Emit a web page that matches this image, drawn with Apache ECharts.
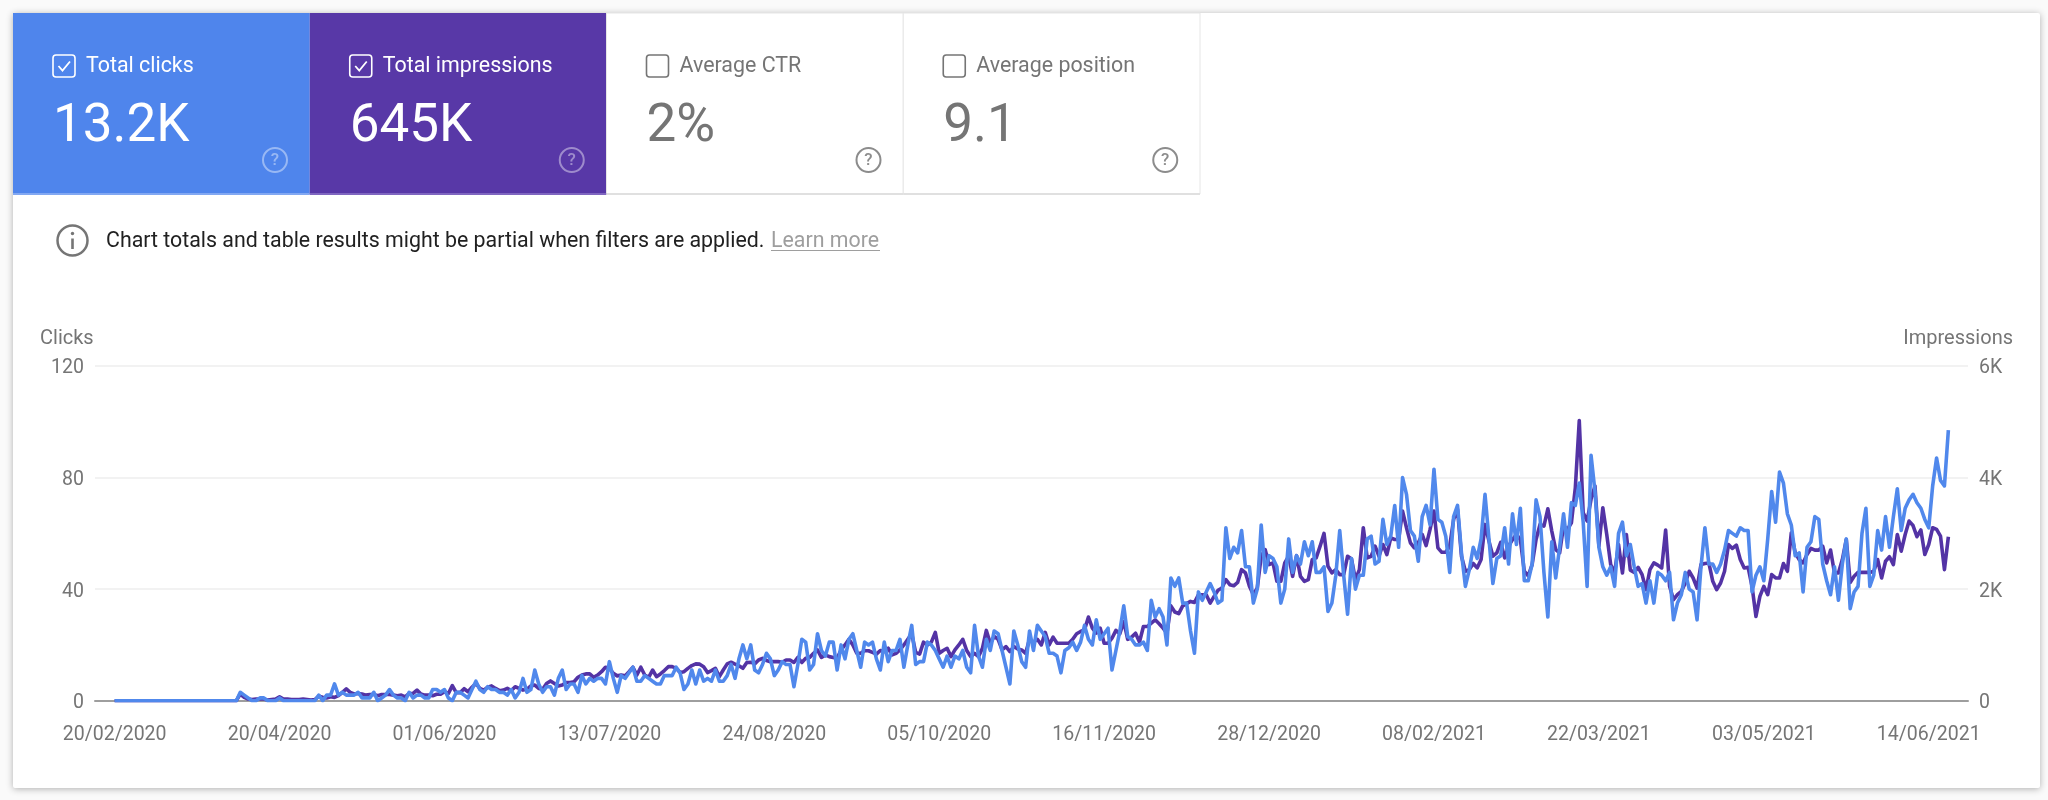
<!DOCTYPE html>
<html>
<head>
<meta charset="utf-8">
<title>Search performance</title>
<style>
  html, body { margin: 0; padding: 0; background: #fafafa; }
  #main { width: 2048px; height: 800px; }
</style>
<script src="https://cdn.jsdelivr.net/npm/echarts@6/dist/echarts.min.js"></script>
</head>
<body>
<div id="main"></div>
<script>
// tick labels, one every 42 points
var tickLabels = ['20/02/2020', '20/04/2020', '01/06/2020', '13/07/2020', '24/08/2020', '05/10/2020',
  '16/11/2020', '28/12/2020', '08/02/2021', '22/03/2021', '03/05/2021', '14/06/2021'];

// left axis
var clicks = [
  0,0,0,0,0,0,0,0,0,0,
  0,0,0,0,0,0,0,0,0,0,
  0,0,0,0,0,0,0,0,0,0,
  0,0,3,2,1,0,0,1,1,0,
  0,0,1,0,0,0,0,0,0,0,
  0,0,2,0,2,2,6,2,3,2,
  2,2,3,1,1,1,3,0,1,2,
  4,2,1,1,0,3,1,2,2,1,
  1,4,4,3,4,1,0,3,3,2,
  1,4,7,4,3,5,4,4,3,3,
  2,4,1,3,8,3,4,11,6,3,
  5,5,2,8,11,4,6,6,3,9,
  6,8,7,8,8,6,14,8,3,9,
  8,10,12,7,7,9,8,7,6,6,
  9,9,9,12,10,4,6,11,6,11,
  7,8,7,11,7,7,9,13,8,15,
  20,15,20,11,10,13,17,15,9,11,
  14,13,13,5,13,22,21,11,13,24,
  18,16,21,21,11,20,15,22,24,18,
  12,21,20,21,15,11,21,14,18,18,
  22,12,20,27,13,14,14,21,20,18,
  15,12,16,12,16,15,18,12,10,27,
  16,12,22,18,25,24,18,12,6,25,
  20,14,12,25,18,27,25,23,17,17,
  16,10,18,19,21,18,21,27,22,20,
  29,22,24,26,11,18,25,34,23,22,
  20,20,21,18,36,30,33,30,20,44,
  41,44,35,35,25,17,39,36,39,42,
  39,35,36,62,51,55,53,61,48,48,
  35,40,63,46,52,51,48,35,40,58,
  46,52,49,57,52,57,46,46,48,32,
  35,45,61,45,31,51,40,45,45,58,
  59,49,50,65,56,59,70,55,80,74,
  61,59,50,66,70,63,83,65,64,59,
  46,66,70,53,41,47,55,51,58,74,
  58,42,51,52,62,49,67,56,69,43,
  43,49,72,66,46,30,57,44,55,67,
  55,71,70,78,64,41,88,75,55,48,
  45,48,41,60,64,52,56,48,41,42,
  35,43,35,46,45,43,46,29,35,38,
  46,40,39,29,48,62,49,49,46,49,
  54,61,60,59,62,61,61,39,45,48,
  43,58,75,64,82,78,67,63,52,53,
  39,55,57,66,65,49,43,38,48,36,
  49,58,33,39,41,60,69,41,45,61,
  54,66,55,66,76,61,69,72,74,71,
  69,65,62,77,87,79,77,97
];

// right axis
var impressions = [
  0,0,0,0,0,0,0,0,0,0,
  0,0,0,0,0,0,0,0,0,0,
  0,0,0,0,0,0,0,0,0,0,
  0,0,120,60,30,20,30,30,30,10,
  20,30,70,30,30,20,20,20,30,20,
  10,20,80,60,50,70,60,90,150,210,
  150,120,130,120,100,110,110,90,110,110,
  110,100,90,100,70,130,130,190,120,100,
  100,90,115,115,160,130,270,145,145,215,
  160,240,310,220,190,240,265,220,180,190,
  220,180,250,220,190,205,265,280,220,205,
  310,355,310,265,280,325,325,340,420,460,
  480,480,420,460,520,600,580,490,445,460,
  445,520,600,460,600,460,420,550,430,480,
  540,610,610,580,505,520,580,630,660,655,
  610,505,540,580,430,550,660,690,655,625,
  580,685,690,660,730,760,720,700,700,700,
  690,730,730,685,775,685,760,775,850,910,
  775,820,790,775,760,910,1000,1100,1000,850,
  850,895,895,865,835,900,880,940,820,850,
  910,1000,1100,1200,865,835,1050,1000,1050,1225,
  850,900,940,790,910,1000,1100,900,790,850,
  790,940,1260,1030,1150,1100,910,970,880,970,
  925,910,850,1100,1050,1100,1000,1225,1000,1140,
  1030,1030,1030,1030,1100,1200,1240,1270,1500,1300,
  1210,1300,1030,1030,1120,1260,1200,1420,1100,1140,
  1210,1050,1330,1330,1390,1450,1380,1300,1210,1700,
  1590,1560,1700,1740,1780,1760,1900,1900,1900,1750,
  1870,1980,2020,2170,2080,2060,2120,2350,2290,2050,
  1900,2020,2590,2710,2440,2470,2140,2140,2470,2590,
  2230,2600,2230,2140,2170,2530,2560,2770,3000,2410,
  2290,2350,2260,2260,2590,2540,2170,2350,3100,2560,
  2590,2770,2590,2800,2620,2920,2890,2890,3400,3100,
  2830,2740,2830,2980,2780,3070,3400,2740,2660,2660,
  2770,3250,3430,2590,2320,2350,2460,2380,2530,3160,
  2860,2590,2650,2840,2560,2770,2890,2980,2890,2320,
  2240,2440,2890,3160,3130,3440,3040,2710,2650,3130,
  3070,3190,3820,5020,3370,3220,3610,3850,2770,3460,
  2980,2440,2290,2800,2290,2980,2340,2300,2390,2260,
  1990,2350,2470,2430,2380,3060,2050,1810,1900,1960,
  2110,2320,2200,2020,2440,2460,2470,2140,1990,2110,
  2320,2800,2730,2790,2530,2380,2390,2050,1510,1870,
  2050,1900,2260,2200,2200,2460,2320,3010,2650,2530,
  2470,2620,2730,2700,2700,2770,2470,2700,2290,2290,
  2530,2890,2120,2230,2300,2300,2300,2300,2320,2530,
  2200,2500,2580,2440,2980,2680,2980,3220,3140,2940,
  3060,2620,2800,3100,3070,2950,2350,2940
];

var cardLabels = ['Total clicks', 'Total impressions', 'Average CTR', 'Average position'];
var cardValues = ['13.2K', '645K', '2%', '9.1'];
var cardChecked = [true, true, false, false];
var cardColors = ['#4f85ec', '#5838a7', '#ffffff', '#ffffff'];
var cardEdges = ['#82a8f2', '#7f66c0', '#e0e0e0', '#e0e0e0'];

var font = 'Roboto';
var gray = '#757575';

// blank categories left and right so the lines sit inside the gridlines
var pad = 5;
var categories = [];
for (var i = -pad; i < clicks.length + pad; i++) {
  var isTick = i >= 0 && i % 42 === 0 && i / 42 < tickLabels.length;
  categories.push(isTick ? tickLabels[i / 42] : 'p' + i);
}
function padded(values) {
  var blank = new Array(pad).fill(null);
  return blank.concat(values, blank);
}

// cards, notice and axis titles
var shapes = [{
  type: 'rect', z: -10, silent: true,
  shape: { x: 13, y: 13, width: 2027, height: 775, r: 2 },
  style: { fill: '#fff', shadowBlur: 7, shadowColor: 'rgba(0,0,0,0.3)', shadowOffsetY: 1 }
}];
cardLabels.forEach(function (label, c) {
  var x0 = 13 + c * 296.75;
  var active = cardChecked[c];
  var fg = active ? '#fff' : gray;
  var helpColor = active ? 'rgba(255,255,255,0.42)' : '#8c8c8c';
  shapes.push({
    type: 'rect', z: -5,
    shape: { x: x0, y: 13, width: 296.75, height: 181 },
    style: { fill: cardColors[c], stroke: active ? null : '#e6e6e6', lineWidth: 1 }
  });
  shapes.push({
    type: 'line', z: -4,
    shape: { x1: x0, y1: 194, x2: x0 + 296.75, y2: 194 },
    style: { stroke: cardEdges[c], lineWidth: 2 }
  });
  shapes.push({
    type: 'rect', z: -4,
    shape: { x: x0 + 40, y: 55, width: 22, height: 22, r: 3 },
    style: { fill: 'none', stroke: fg, lineWidth: 1.6 }
  });
  if (active) {
    shapes.push({
      type: 'polyline', z: -4,
      shape: { points: [[x0 + 45.5, 66], [x0 + 49.5, 70.5], [x0 + 57, 61.5]] },
      style: { fill: 'none', stroke: fg, lineWidth: 1.8 }
    });
  }
  shapes.push({
    type: 'text', z: -4, x: x0 + 73, y: 67,
    style: { text: label, fill: fg, font: '400 21.4px ' + font, textVerticalAlign: 'middle' }
  });
  shapes.push({
    type: 'text', z: -4, x: x0 + 40, y: 128,
    style: { text: cardValues[c], fill: fg, font: '400 53px ' + font, textVerticalAlign: 'middle' }
  });
  shapes.push({
    type: 'circle', z: -4,
    shape: { cx: x0 + 262, cy: 160, r: 12 },
    style: { fill: 'none', stroke: helpColor, lineWidth: 2 }
  });
  shapes.push({
    type: 'text', z: -4, x: x0 + 262, y: 160.5,
    style: { text: '?', fill: helpColor, font: '500 17px ' + font,
      textAlign: 'center', textVerticalAlign: 'middle' }
  });
});
shapes.push(
  { type: 'circle', z: -4, shape: { cx: 72.5, cy: 240.5, r: 15 }, style: { fill: 'none', stroke: gray, lineWidth: 2.5 } },
  { type: 'circle', z: -4, shape: { cx: 72.5, cy: 233.5, r: 1.7 }, style: { fill: gray } },
  { type: 'line', z: -4, shape: { x1: 72.5, y1: 238.5, x2: 72.5, y2: 249 }, style: { stroke: gray, lineWidth: 2.6 } },
  { type: 'text', z: -4, x: 106, y: 241.5, style: { text: 'Chart totals and table results might be partial when filters are applied.',
      fill: '#212121', font: '400 21.35px ' + font, textVerticalAlign: 'middle' } },
  { type: 'text', z: -4, x: 771, y: 241.5, style: { text: 'Learn more', fill: '#9e9e9e', font: '400 21.35px ' + font, textVerticalAlign: 'middle' } },
  { type: 'line', z: -4, shape: { x1: 771, y1: 250.5, x2: 880, y2: 250.5 }, style: { stroke: '#9e9e9e', lineWidth: 1 } },
  { type: 'text', z: -4, x: 40, y: 338.5, style: { text: 'Clicks', fill: gray, font: '400 20px ' + font, textVerticalAlign: 'middle' } },
  { type: 'text', z: -4, x: 2013, y: 338.5, style: { text: 'Impressions', fill: gray, font: '400 20px ' + font, textAlign: 'right', textVerticalAlign: 'middle' } }
);

// padding in a rich block nudges the value labels onto their gridlines
var valueRich = { v: { color: gray, fontSize: 19.5, fontFamily: font, padding: [5, 0, 0, 0] } };

var chart = echarts.init(document.getElementById('main'));
var option = {
  animation: false,
  backgroundColor: '#fafafa',
  textStyle: { fontFamily: font },
  graphic: { elements: shapes },
  grid: { left: 95, right: 80, top: 366, bottom: 99.3 },
  xAxis: {
    type: 'category',
    boundaryGap: false,
    data: categories,
    axisTick: { show: false },
    axisLine: { lineStyle: { color: '#9e9e9e', width: 2 } },
    axisLabel: {
      color: gray, fontSize: 19.5, fontFamily: font, margin: 24,
      interval: function (idx, value) { return tickLabels.indexOf(value) >= 0; }
    }
  },
  yAxis: [{
    type: 'value', min: 0, max: 120, interval: 40,
    axisLine: { show: false }, axisTick: { show: false },
    axisLabel: {
      margin: 11, rich: valueRich,
      formatter: function (v) { return '{v|' + v + '}'; }
    },
    splitLine: { lineStyle: { color: '#eeeeee', width: 1.5 } }
  }, {
    type: 'value', min: 0, max: 6000, interval: 2000,
    axisLine: { show: false }, axisTick: { show: false },
    axisLabel: {
      margin: 11, rich: valueRich,
      formatter: function (v) { return '{v|' + (v ? v / 1000 + 'K' : '0') + '}'; }
    },
    splitLine: { show: false }
  }],
  series: [{
    name: 'Impressions', type: 'line', yAxisIndex: 1,
    data: padded(impressions), showSymbol: false,
    lineStyle: { color: '#5333a5', width: 3.6, join: 'round' }, z: 3
  }, {
    name: 'Clicks', type: 'line', yAxisIndex: 0,
    data: padded(clicks), showSymbol: false,
    lineStyle: { color: '#5088ec', width: 3.6, join: 'round' }, z: 4
  }]
};
chart.setOption(option);
window.onresize = chart.resize;
</script>
</body>
</html>
